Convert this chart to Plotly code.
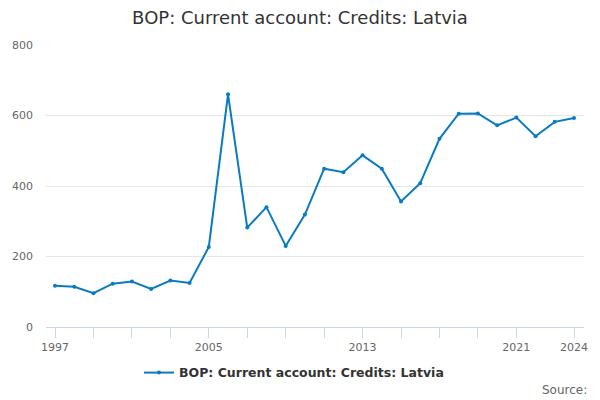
import plotly.graph_objects as go

years = list(range(1997, 2025))
values = [117, 114, 96, 123, 129, 108, 132, 125, 227, 660, 282, 340, 230, 319,
          449, 439, 487, 449, 356, 408, 534, 605, 606, 572, 594, 541, 582, 593]
tick_years = [1997, 1999, 2001, 2003, 2005, 2007, 2009, 2011, 2013, 2015, 2017, 2019, 2021, 2024]
tick_labels = ["1997", "", "", "", "2005", "", "", "", "2013", "", "", "", "2021", "2024"]
y_ticks = [0, 200, 400, 600, 800]
series_name = "BOP: Current account: Credits: Latvia"

color = "#0a7bbf"
font = "DejaVu Sans"

fig = go.Figure()
fig.add_trace(go.Scatter(
    x=years, y=values, mode="lines+markers", name="<b>" + series_name + "</b>",
    line=dict(color=color, width=2),
    marker=dict(color=color, size=4),
))

fig.update_layout(
    width=600, height=400,
    margin=dict(l=46, r=16, t=45, b=73),
    paper_bgcolor="white", plot_bgcolor="white",
    font=dict(family=font, color="#666666", size=11),
    title=dict(text=series_name, x=0.5, xanchor="center", y=1 - 18 / 400, yanchor="middle",
               font=dict(family=font, size=18, color="#333333")),
    showlegend=True,
    legend=dict(orientation="h", x=0.461, xanchor="center", y=-0.163, yanchor="middle",
                font=dict(family=font, size=12.5, color="#333333"),
                itemwidth=30),
    xaxis=dict(range=[1996.53, 2024.52], tickmode="array", tickvals=tick_years, ticktext=tick_labels,
               showgrid=False, showline=True, linecolor="#ccd6eb", linewidth=1,
               ticks="outside", ticklen=10, tickcolor="#ccd6eb", tickwidth=1,
               tickfont=dict(family=font, size=11, color="#666666"), zeroline=False),
    yaxis=dict(range=[0, 800], tickmode="array", tickvals=y_ticks,
               showgrid=True, gridcolor="#e6e6e6", gridwidth=1, zeroline=False,
               showline=False, ticks="", ticklabelstandoff=12,
               tickfont=dict(family=font, size=11, color="#666666")),
    annotations=[dict(text="Source:", xref="paper", yref="paper", x=1.009, y=-0.223,
                      xanchor="right", yanchor="middle", showarrow=False,
                      font=dict(family=font, size=12, color="#666666"))],
)

fig.write_html("out.html", post_script="document.body.style.margin='0';",
               config={"displayModeBar": False})
